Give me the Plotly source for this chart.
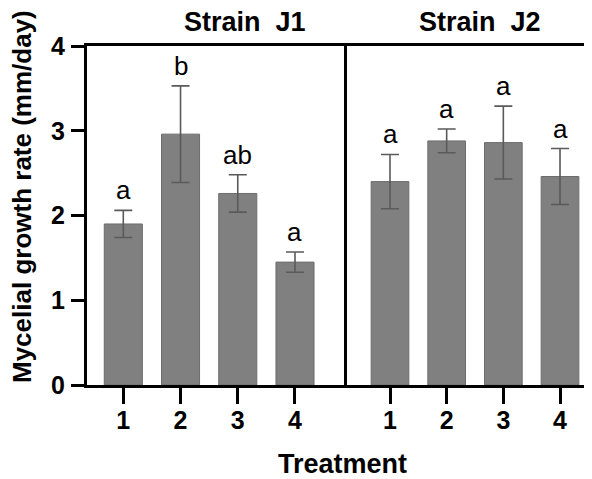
import plotly.graph_objects as go
from plotly.subplots import make_subplots

treatments = ["1", "2", "3", "4"]
j1_mean = [1.90, 2.96, 2.26, 1.45]
j1_err = [0.16, 0.57, 0.22, 0.12]
j1_letters = ["a", "b", "ab", "a"]
j2_mean = [2.40, 2.88, 2.86, 2.46]
j2_err = [0.32, 0.14, 0.43, 0.33]
j2_letters = ["a", "a", "a", "a"]
panel_titles = ["Strain  J1", "Strain  J2"]
y_ticks = [0, 1, 2, 3, 4]

FONT = "Arial, Liberation Sans, sans-serif"
BAR = "#808080"
ERR = "#5a5a5a"

# the page body has an 8px margin; compute layout in screen pixels
OFF = 8
W, H = 592, 479
PL, PR, PT, PB = 87, 600, 46, 385          # plot area on screen
ML, MR, MT, MB = PL - OFF, 0, PT - OFF, H - (PB - OFF)
plot_w = PR - PL
plot_h = PB - PT
split = (344 - PL) / plot_w


def px(sx):
    return (sx - PL) / plot_w


def py(sy):
    return (PB - sy) / plot_h


fig = make_subplots(rows=1, cols=2, shared_yaxes=True, horizontal_spacing=0)

for col, (means, errs) in enumerate([(j1_mean, j1_err), (j2_mean, j2_err)], start=1):
    fig.add_trace(
        go.Bar(
            x=treatments, y=means, width=0.665,
            marker=dict(color=BAR, line=dict(color="#6c6c6c", width=1)),
            error_y=dict(type="data", array=errs, visible=True, color=ERR,
                         thickness=1.6, width=9),
            showlegend=False,
        ),
        row=1, col=col,
    )

# significance letters (x given as category index)
for xr, means, errs, letters in [("x", j1_mean, j1_err, j1_letters),
                                  ("x2", j2_mean, j2_err, j2_letters)]:
    for i, (m, e, l) in enumerate(zip(means, errs, letters)):
        fig.add_annotation(x=i, y=m + e, xref=xr, yref="y", text=l, showarrow=False,
                           yanchor="bottom", yshift=3,
                           font=dict(family=FONT, size=26, color="black"))

# panel titles
for sx, txt in [(245, panel_titles[0]), (480, panel_titles[1])]:
    fig.add_annotation(x=px(sx), y=py(22), xref="paper", yref="paper",
                       text="<b>" + txt + "</b>", showarrow=False, yanchor="middle",
                       xanchor="center", font=dict(family=FONT, size=27, color="black"))

# x axis title
fig.add_annotation(x=px(342), y=py(464), xref="paper", yref="paper",
                   text="<b>Treatment</b>", showarrow=False,
                   yanchor="middle", xanchor="center",
                   font=dict(family=FONT, size=27, color="black"))

# y axis title
fig.add_annotation(x=px(22), y=py(197), xref="paper", yref="paper",
                   text="<b>Mycelial growth rate (mm/day)</b>",
                   showarrow=False, textangle=-90, xanchor="center", yanchor="middle",
                   font=dict(family=FONT, size=26, color="black"))

tickfont = dict(family=FONT, size=25, color="black", weight="bold")
xcommon = dict(type="category", showline=True, linecolor="black", linewidth=3,
               mirror=True, ticks="outside", ticklen=16, tickwidth=3, tickcolor="black",
               showgrid=False, zeroline=False, automargin=False, tickfont=tickfont,
               ticklabelstandoff=-5)
fig.update_xaxes(**xcommon)
fig.update_layout(
    xaxis=dict(domain=[0, split], range=[(PL - 123.3) / 57.23, (344 - 123.3) / 57.23]),
    xaxis2=dict(domain=[split, 1], range=[(344 - 390) / 56.67, (PR - 390) / 56.67]),
    yaxis=dict(range=[0, 4], tickvals=y_ticks, showline=True, linecolor="black",
               linewidth=3, mirror=True, ticks="outside", ticklen=13, tickwidth=3,
               tickcolor="black", showgrid=False, zeroline=False, automargin=False,
               tickfont=tickfont, ticklabelstandoff=1),
    yaxis2=dict(range=[0, 4], showline=False, ticks="", showgrid=False, zeroline=False,
                showticklabels=False, automargin=False),
    width=W, height=H,
    margin=dict(l=ML, r=MR, t=MT, b=MB, pad=0, autoexpand=False),
    plot_bgcolor="white", paper_bgcolor="white",
    bargap=0.3,
)

fig.write_html("out.html")
